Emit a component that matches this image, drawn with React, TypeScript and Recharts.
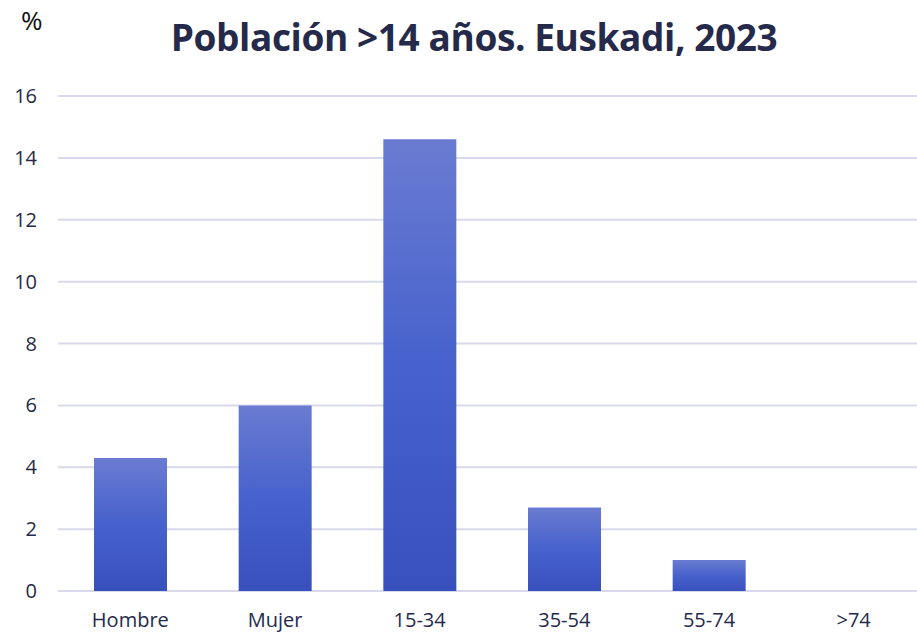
import { BarChart, Bar, XAxis, YAxis, CartesianGrid } from "recharts";

const categories = ["Hombre", "Mujer", "15-34", "35-54", "55-74", ">74"];
const values = [4.3, 6.0, 14.6, 2.7, 1.0, 0];
const yTicks = [0, 2, 4, 6, 8, 10, 12, 14, 16];

const data = categories.map((name, i) => ({ name, value: values[i] }));

const ink = "#262a4a";
const font = "'Open Sans', sans-serif";

export default function App() {
  return (
    <div
      style={{
        position: "absolute",
        left: 0,
        top: 0,
        width: 917,
        height: 635,
        overflow: "hidden",
        background: "#fff",
        fontFamily: font,
      }}
    >
      <div style={{ position: "absolute", left: 21, top: 2, fontSize: 26, color: "#111" }}>%</div>
      <div
        style={{
          position: "absolute",
          left: 0,
          width: 948,
          top: 11,
          textAlign: "center",
          fontSize: 37,
          fontWeight: 700,
          color: ink,
          letterSpacing: -0.4,
        }}
      >
        Población &gt;14 años. Euskadi, 2023
      </div>
      <BarChart
        width={926}
        height={635}
        data={data}
        margin={{ top: 96, right: 0, bottom: 0, left: 0 }}
        style={{ position: "absolute", left: 0, top: 0 }}
      >
        <defs>
          <linearGradient id="barFill" x1="0" y1="0" x2="0" y2="1">
            <stop offset="0%" stopColor="#6a7bd1" />
            <stop offset="50%" stopColor="#4762cd" />
            <stop offset="100%" stopColor="#3850bc" />
          </linearGradient>
        </defs>
        <CartesianGrid vertical={false} stroke="#d9d9ec" strokeWidth={2} />
        <XAxis
          dataKey="name"
          height={44}
          axisLine={false}
          tickLine={false}
          tickSize={0}
          tickMargin={22}
          tick={{ fill: ink, fontSize: 20, fontFamily: font }}
          interval={0}
        />
        <YAxis
          width={58}
          domain={[0, 16]}
          ticks={yTicks}
          axisLine={false}
          tickLine={false}
          tickSize={0}
          tickMargin={21}
          tick={{ fill: ink, fontSize: 20, fontFamily: font }}
          interval={0}
        />
        <Bar dataKey="value" fill="url(#barFill)" barSize={73} isAnimationActive={false} />
      </BarChart>
    </div>
  );
}
